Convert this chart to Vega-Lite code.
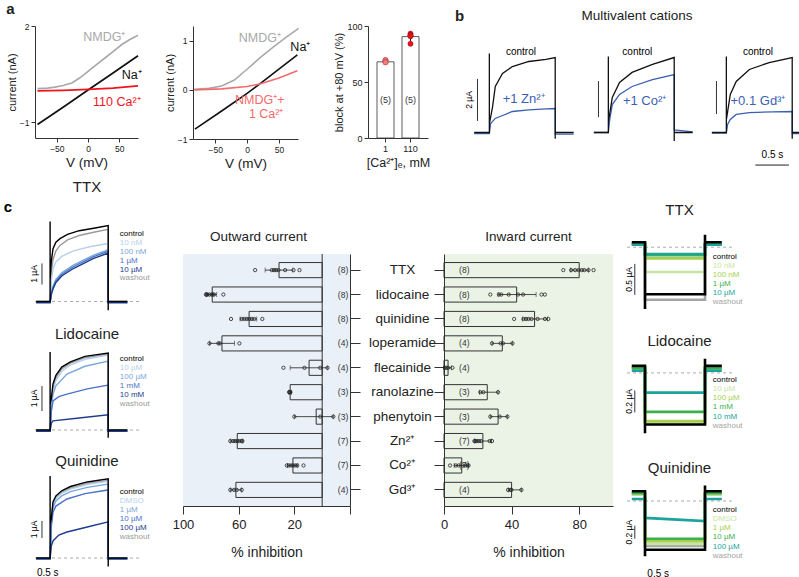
{
"$schema": "https://vega.github.io/schema/vega-lite/v6.json",
"padding": {"left": 3, "top": 2, "right": 0, "bottom": 0},
"background": "white",
"config": {
 "font": "Liberation Sans",
 "view": {"stroke": null},
 "axis": {"grid": false, "domainColor": "#333333", "tickColor": "#333333", "labelColor": "#222222", "titleColor": "#222222", "titleFontWeight": "normal", "labelFontSize": 8.5, "titleFontSize": 12, "tickSize": 4, "labelPadding": 2, "titlePadding": 2, "labelOverlap": false},
 "title": {"fontWeight": "normal", "color": "#222222"}
},
"datasets": {
 "a1": [
  {"s":"NMDG","v":[-81,-65,-53,-40,-26,-13,0,14,27,40,54,67,80],"i":[0.04,0.06,0.09,0.14,0.22,0.38,0.58,0.8,1.0,1.2,1.42,1.58,1.71]},
  {"s":"Na","v":[-81,-40,0,40,80],"i":[-1.08,-0.54,0,0.53,1.07]},
  {"s":"Ca","v":[-81,-40,0,40,80],"i":[-0.03,-0.01,0.02,0.06,0.13]}
 ],
 "a2": [
  {"s":"NMDG","v":[-83,-60,-40,-20,0,20,40,60,81],"i":[0.01,0.03,0.08,0.2,0.42,0.65,0.86,1.06,1.25]},
  {"s":"Na","v":[-82,-40,0,20,50,79],"i":[-0.8,-0.43,-0.07,0.12,0.42,0.71]},
  {"s":"Ca","v":[-83,-40,0,20,50,79],"i":[0,0.02,0.07,0.12,0.24,0.39]}
 ],
 "a3bars": [{"c":"1","m":68,"lo":67,"hi":69.5},{"c":"110","m":90.5,"lo":86.5,"hi":94}],
 "a3dots": [
  {"c":"1","v":68},{"c":"1","v":69.5},{"c":"1","v":69.5},{"c":"1","v":68},{"c":"1","v":67.5},
  {"c":"110","v":93.2},{"c":"110","v":91.7},{"c":"110","v":91.7},{"c":"110","v":84.2},{"c":"110","v":90.8}
 ],
 "b1": [
  {"s":"drug","t":[-0.23,0,0.02,0.09,0.2,0.35,0.6,0.86,1,1,1.28],"i":[-0.05,-0.05,0.43,0.67,0.81,1.0,1.08,1.12,1.14,-0.08,-0.08]},
  {"s":"control","t":[-0.23,0,0,0,0.05,0.09,0.2,0.35,0.6,0.86,1,1,1,1.28],"i":[0,0,3.76,0.4,1.24,2.19,2.81,3.14,3.38,3.48,3.57,-0.3,0,0]}
 ],
 "b2": [
  {"s":"drug","t":[-0.22,0,0.02,0.06,0.17,0.36,0.67,1,1,1.28],"i":[0,0,0.6,1.33,1.81,2.19,2.52,2.76,0.12,0.03]},
  {"s":"control","t":[-0.22,0,0,0,0.06,0.17,0.36,0.67,1,1,1,1.28],"i":[0,0,3.62,0.5,1.67,2.38,2.86,3.24,3.57,-0.4,0,0]}
 ],
 "b3": [
  {"s":"drug","t":[-0.22,0,0.02,0.06,0.15,0.35,0.7,1,1,1.28],"i":[-0.03,-0.03,0.4,0.62,0.86,0.95,0.98,1.0,-0.05,-0.05]},
  {"s":"control","t":[-0.22,0,0,0,0.06,0.15,0.35,0.65,1,1,1,1.28],"i":[0,0,3.62,0.6,1.81,2.43,3.0,3.33,3.57,-0.3,0,0]}
 ],
 "cL1": [
  {"s":"washout","t":[-0.24,0,0.02,0.05,0.1,0.17,0.3,0.5,0.75,1,1,1.33],"i":[0,0,1.3,1.9,2.3,2.55,2.8,3.0,3.15,3.28,0,0]},
  {"s":"10 nM","t":[-0.24,0,0.02,0.05,0.1,0.2,0.4,0.7,1,1,1.33],"i":[-0.05,-0.05,0.9,1.5,1.8,2.05,2.3,2.5,2.64,-0.05,-0.05]},
  {"s":"100 nM","t":[-0.24,0,0.02,0.05,0.1,0.2,0.4,0.74,1,1,1.33],"i":[-0.05,-0.05,0.4,0.7,1.0,1.3,1.65,2.1,2.35,-0.05,-0.05]},
  {"s":"1 µM","t":[-0.24,0,0.02,0.05,0.1,0.2,0.4,0.74,1,1,1.33],"i":[-0.05,-0.05,0.35,0.63,0.93,1.23,1.58,2.03,2.28,-0.05,-0.05]},
  {"s":"10 µM","t":[-0.24,0,0.02,0.05,0.1,0.2,0.4,0.74,1,1,1.33],"i":[-0.05,-0.05,0.3,0.57,0.86,1.16,1.5,1.95,2.2,-0.05,-0.05]},
  {"s":"control","t":[-0.24,0,0,0,0.02,0.05,0.1,0.17,0.3,0.5,0.75,1,1,1,1.33],"i":[0,0,3.64,1.0,1.8,2.4,2.7,2.86,3.05,3.22,3.33,3.45,-0.4,0,0]}
 ],
 "cL2": [
  {"s":"washout","t":[-0.24,0,0.02,0.05,0.1,0.2,0.35,0.6,1,1,1.33],"i":[0,0,1.0,1.6,2.0,2.35,2.57,2.78,2.92,0,0]},
  {"s":"10 µM","t":[-0.24,0,0.02,0.05,0.1,0.2,0.35,0.6,1,1,1.33],"i":[-0.04,-0.04,0.9,1.5,1.9,2.25,2.5,2.72,2.88,-0.04,-0.04]},
  {"s":"100 µM","t":[-0.24,0,0.02,0.05,0.1,0.29,0.6,1,1,1.33],"i":[-0.04,-0.04,0.8,1.38,1.7,2.15,2.45,2.65,-0.04,-0.04]},
  {"s":"1 mM","t":[-0.24,0,0.02,0.05,0.15,0.29,0.64,1,1,1.33],"i":[-0.04,-0.04,0.7,1.12,1.28,1.38,1.58,1.73,-0.04,-0.04]},
  {"s":"10 mM","t":[-0.24,0,0.02,0.05,0.5,1,1,1.33],"i":[-0.05,-0.05,0.25,0.35,0.46,0.58,-0.05,-0.05]},
  {"s":"control","t":[-0.24,0,0,0,0.02,0.05,0.1,0.2,0.35,0.6,1,1,1,1.33],"i":[0,0,3.0,1.0,1.2,1.77,2.1,2.42,2.62,2.83,2.96,-0.3,0,0]}
 ],
 "cL3": [
  {"s":"washout","t":[-0.24,0,0.02,0.05,0.1,0.2,0.35,0.64,1,1,1.33],"i":[0,0,2.2,3.2,3.55,3.85,4.1,4.38,4.55,0,0]},
  {"s":"DMSO","t":[-0.24,0,0.02,0.05,0.1,0.2,0.35,0.64,1,1,1.33],"i":[-0.05,-0.05,2.1,3.1,3.5,3.8,4.05,4.32,4.5,-0.05,-0.05]},
  {"s":"1 µM","t":[-0.24,0,0.02,0.05,0.1,0.2,0.35,0.64,1,1,1.33],"i":[-0.05,-0.05,2.0,2.95,3.35,3.65,3.9,4.15,4.35,-0.05,-0.05]},
  {"s":"10 µM","t":[-0.24,0,0.02,0.05,0.1,0.29,0.6,1,1,1.33],"i":[-0.05,-0.05,1.8,2.7,3.05,3.47,3.78,4.0,-0.05,-0.05]},
  {"s":"100 µM","t":[-0.24,0,0.02,0.05,0.15,0.29,0.64,1,1,1.33],"i":[-0.05,-0.05,0.7,1.0,1.35,1.53,1.82,2.12,-0.05,-0.05]},
  {"s":"control","t":[-0.24,0,0,0,0.02,0.05,0.1,0.2,0.35,0.64,1,1,1,1.33],"i":[0,0,4.82,2.0,2.3,3.3,3.65,3.95,4.2,4.47,4.65,-0.5,0,0]}
 ],
 "cR1": [
  {"s":"washout","t":[-0.22,0,0,1,1,1.28],"i":[0.05,0.05,-0.85,-0.85,0.05,0.05]},
  {"s":"10 nM","t":[-0.22,0,0,1,1,1.28],"i":[0.05,0.05,-0.4,-0.4,0.05,0.05]},
  {"s":"100 nM","t":[-0.22,0,0,1,1,1.28],"i":[0.05,0.05,-0.18,-0.18,0.05,0.05]},
  {"s":"1 µM","t":[-0.22,0,0,1,1,1.28],"i":[0.05,0.05,-0.13,-0.13,0.05,0.05]},
  {"s":"10 µM","t":[-0.22,0,0,1,1,1.28],"i":[0.04,0.04,-0.11,-0.11,0.04,0.04]},
  {"s":"control","t":[-0.22,0,0,0,1,1,1,1.28],"i":[0.08,0.08,-1.0,-0.76,-0.76,0.2,0.08,0.08]}
 ],
 "cR2": [
  {"s":"washout","t":[-0.22,0,0,1,1,1.28],"i":[0.05,0.05,-0.45,-0.45,0.05,0.05]},
  {"s":"10 µM","t":[-0.22,0,0,1,1,1.28],"i":[0.05,0.05,-0.46,-0.46,0.05,0.05]},
  {"s":"100 µM","t":[-0.22,0,0,1,1,1.28],"i":[0.05,0.05,-0.44,-0.44,0.05,0.05]},
  {"s":"1 mM","t":[-0.22,0,0,1,1,1.28],"i":[0.04,0.04,-0.355,-0.355,0.04,0.04]},
  {"s":"10 mM","t":[-0.22,0,0,1,1,1.28],"i":[0.02,0.02,-0.18,-0.18,0.02,0.02]},
  {"s":"control","t":[-0.22,0,0,0,1,1,1,1.28],"i":[0.064,0.064,-0.55,-0.47,-0.47,0.13,0.064,0.064]}
 ],
 "cR3": [
  {"s":"washout","t":[-0.22,0,0,1,1,1.28],"i":[0.1,0.1,-0.69,-0.69,0.1,0.1]},
  {"s":"DMSO","t":[-0.22,0,0,1,1,1.28],"i":[0.1,0.1,-0.66,-0.66,0.1,0.1]},
  {"s":"1 µM","t":[-0.22,0,0,1,1,1.28],"i":[0.12,0.12,-0.62,-0.62,0.12,0.12]},
  {"s":"10 µM","t":[-0.22,0,0,1,1,1.28],"i":[0.12,0.12,-0.58,-0.58,0.12,0.12]},
  {"s":"100 µM","t":[-0.22,0,0,1,1,1.28],"i":[0.03,0.03,-0.26,-0.31,0.03,0.03]},
  {"s":"control","t":[-0.22,0,0,0,1,1,1,1.28],"i":[0.15,0.15,-0.85,-0.75,-0.75,0.24,0.15,0.15]}
 ],
 "drugs": [
  {"d":"TTX","n":8,"out":31,"oLo":21,"oHi":41,"in":80,"iLo":75,"iHi":85.5},
  {"d":"lidocaine","n":8,"out":79,"oLo":75.8,"oHi":83.5,"in":43,"iLo":32,"iHi":54.5},
  {"d":"quinidine","n":8,"out":52.5,"oLo":47,"oHi":59,"in":53.6,"iLo":46.5,"iHi":61.3},
  {"d":"loperamide","n":4,"out":72,"oLo":63,"oHi":81,"in":34.5,"iLo":28.4,"iHi":40.5},
  {"d":"flecainide","n":4,"out":9.4,"oLo":-4,"oHi":23,"in":2.4,"iLo":0,"iHi":4.5},
  {"d":"ranolazine","n":3,"out":23,"oLo":22,"oHi":24,"in":25.6,"iLo":21,"iHi":32},
  {"d":"phenytoin","n":3,"out":4.3,"oLo":-8,"oHi":20,"in":32,"iLo":27.4,"iHi":37.5},
  {"d":"Zn²⁺","n":7,"out":61,"oLo":57,"oHi":66,"in":23,"iLo":18,"iHi":28},
  {"d":"Co²⁺","n":7,"out":21,"oLo":17.5,"oHi":25,"in":10.5,"iLo":6,"iHi":14.5},
  {"d":"Gd³⁺","n":4,"out":62,"oLo":58,"oHi":66,"in":40,"iLo":38,"iHi":45.8}
 ],
 "outDots": [
  {"d":"TTX","v":[48.2,36.2,34.5,33.1,31.4,26.6,20.6,16.3]},
  {"d":"lidocaine","v":[83.5,83,82.5,81,79.4,78.5,77.7,71]},
  {"d":"quinidine","v":[65.5,57.8,55.9,54.2,52.3,50.6,48.7,43]},
  {"d":"loperamide","v":[81,74.6,73.5,59.5]},
  {"d":"flecainide","v":[27.8,12.7,1.4,-3.8]},
  {"d":"ranolazine","v":[22.8,23.3,23.8]},
  {"d":"phenytoin","v":[20,1.4,-8]},
  {"d":"Zn²⁺","v":[66,64,62.5,61,59.5,58,57.3]},
  {"d":"Co²⁺","v":[25.4,24,22.3,21,19.4,18,13.4]},
  {"d":"Gd³⁺","v":[66,63.3,61.4,57.8]}
 ],
 "inDots": [
  {"d":"TTX","v":[70.6,75.2,77.6,79.6,81.5,83.1,85.5,88.5]},
  {"d":"lidocaine","v":[27.4,32.5,33.9,38.3,43.8,46.8,57.7,59.7]},
  {"d":"quinidine","v":[41.5,47,48.5,50,51.8,55.4,59.7,61.7]},
  {"d":"loperamide","v":[28.4,33.5,34.9,40.5]},
  {"d":"flecainide","v":[0.5,1.5,2.5,5]},
  {"d":"ranolazine","v":[21.5,23.3,32]},
  {"d":"phenytoin","v":[27.4,33,37.5]},
  {"d":"Zn²⁺","v":[18,18.5,19.4,20.6,22,27,28.4]},
  {"d":"Co²⁺","v":[3.6,7,8.7,11,12.7,13.8,14.5]},
  {"d":"Gd³⁺","v":[37.9,39.3,39.9,45.8]}
 ]
},
"spacing": 10,
"resolve": {"scale": {"color": "independent", "fill": "independent", "stroke": "independent"}},
"vconcat": [
 {"spacing": 25, "resolve": {"scale": {"color": "independent", "fill": "independent", "stroke": "independent"}}, "hconcat": [
  {"spacing": 22, "resolve": {"scale": {"color": "independent", "fill": "independent", "stroke": "independent"}}, "hconcat": [
   {"width": 103, "height": 112,
    "title": {"text": "a", "fontSize": 15, "fontWeight": "bold", "anchor": "start", "offset": 5},
    "data": {"values": [{}]},
    "layer": [
     {"data": {"name": "a1"}, "transform": [{"flatten": ["v", "i"]}], "mark": {"type": "line", "strokeWidth": 1.7},
      "encoding": {
       "x": {"field": "v", "type": "quantitative", "scale": {"domain": [-85, 80], "nice": false, "zero": false}, "axis": {"values": [-50, 0, 50], "title": "V (mV)", "titleFontSize": 13.5, "titlePadding": 3, "labelOverlap": false}},
       "y": {"field": "i", "type": "quantitative", "scale": {"domain": [-1.5, 2], "nice": false, "zero": false}, "axis": {"values": [-1, 0, 1, 2], "title": "current (nA)", "titleFontSize": 11, "labelOverlap": {"expr": "false"}, "labelFlush": false}},
       "color": {"field": "s", "type": "nominal", "scale": {"domain": ["NMDG", "Na", "Ca"], "range": ["#a9a9a9", "#111111", "#f0141e"]}, "legend": null}}},
     {"mark": {"type": "text", "text": "NMDG⁺", "fontSize": 12.5, "color": "#a9a9a9"}, "encoding": {"x": {"datum": 26}, "y": {"datum": 1.65}}},
     {"mark": {"type": "text", "text": "Na⁺", "fontSize": 12.5, "color": "#111111"}, "encoding": {"x": {"datum": 70}, "y": {"datum": 0.47}}},
     {"mark": {"type": "text", "text": "110 Ca²⁺", "fontSize": 12.5, "color": "#f0141e"}, "encoding": {"x": {"datum": 46}, "y": {"datum": -0.37}}}
    ]},
   {"width": 105, "height": 113,
    "data": {"values": [{}]},
    "layer": [
     {"data": {"name": "a2"}, "transform": [{"flatten": ["v", "i"]}], "mark": {"type": "line", "strokeWidth": 1.6},
      "encoding": {
       "x": {"field": "v", "type": "quantitative", "scale": {"domain": [-85, 80], "nice": false, "zero": false}, "axis": {"values": [-50, 0, 50], "title": "V (mV)", "titleFontSize": 13.5, "titlePadding": 3, "labelOverlap": false}},
       "y": {"field": "i", "type": "quantitative", "scale": {"domain": [-1, 1.3], "nice": false, "zero": false}, "axis": {"values": [-1, 0, 1], "title": "current (nA)", "titleFontSize": 11, "labelOverlap": false, "labelFlush": false}},
       "color": {"field": "s", "type": "nominal", "scale": {"domain": ["NMDG", "Na", "Ca"], "range": ["#a9a9a9", "#111111", "#f36b6b"]}, "legend": null}}},
     {"mark": {"type": "text", "text": "NMDG⁺", "fontSize": 12.5, "color": "#a9a9a9"}, "encoding": {"x": {"datum": 20}, "y": {"datum": 1.06}}},
     {"mark": {"type": "text", "text": "Na⁺", "fontSize": 12.5, "color": "#111111", "align": "left"}, "encoding": {"x": {"datum": 68}, "y": {"datum": 0.88}}},
     {"mark": {"type": "text", "text": "NMDG⁺+", "fontSize": 12.5, "color": "#f36b6b"}, "encoding": {"x": {"datum": 20}, "y": {"datum": -0.2}}},
     {"mark": {"type": "text", "text": "1 Ca²⁺", "fontSize": 12.5, "color": "#f36b6b"}, "encoding": {"x": {"datum": 30}, "y": {"datum": -0.49}}}
    ]},
   {"width": 60, "height": 112,
    "data": {"name": "a3bars"},
    "layer": [
     {"mark": {"type": "bar", "fill": "white", "stroke": "#333333", "strokeWidth": 0.8},
      "encoding": {
       "x": {"field": "c", "type": "nominal", "sort": null, "scale": {"paddingInner": 0.32, "paddingOuter": 0.36}, "axis": {"title": "[Ca²⁺]ₑ, mM", "labelAngle": 0, "labelFontSize": 9, "titleFontSize": 12.5, "titlePadding": 3}},
       "y": {"field": "m", "type": "quantitative", "scale": {"domain": [0, 100], "nice": false}, "axis": {"values": [0, 25, 50, 75, 100], "labelExpr": "datum.value % 50 == 0 ? datum.label : ''", "title": "block at +80 mV (%)", "titleFontSize": 11, "labelFontSize": 9, "labelOverlap": false, "labelFlush": false}}}},
     {"mark": {"type": "text", "fontSize": 9, "color": "#333333", "text": "(5)"}, "encoding": {"x": {"field": "c", "type": "nominal", "sort": null}, "y": {"datum": 34}}},
     {"mark": {"type": "rule", "color": "#111111"}, "encoding": {"x": {"field": "c", "type": "nominal", "sort": null}, "y": {"field": "lo", "type": "quantitative"}, "y2": {"field": "hi"}}},
     {"data": {"name": "a3dots"}, "mark": {"type": "point", "filled": true, "size": 26, "strokeWidth": 0.6, "opacity": 1},
      "encoding": {
       "x": {"field": "c", "type": "nominal", "sort": null},
       "y": {"field": "v", "type": "quantitative"},
       "fill": {"field": "c", "type": "nominal", "scale": {"domain": ["1", "110"], "range": ["#f27f7f", "#e8141c"]}, "legend": null},
       "stroke": {"field": "c", "type": "nominal", "scale": {"domain": ["1", "110"], "range": ["#c0393b", "#a00d12"]}, "legend": null}}}
    ]}
  ]},
  {"spacing": 4, "resolve": {"scale": {"color": "independent"}}, "hconcat": [
   {"width": 110, "height": 117,
    "title": {"text": "b", "fontSize": 15, "fontWeight": "bold", "anchor": "start", "offset": 2, "dx": -8},
    "data": {"values": [{}]},
    "layer": [
     {"data": {"name": "b1"}, "transform": [{"flatten": ["t", "i"]}], "mark": {"type": "line", "strokeWidth": 1.3},
      "encoding": {
       "x": {"field": "t", "type": "quantitative", "scale": {"domain": [-0.4, 1.27], "nice": false, "zero": false}, "axis": null},
       "y": {"field": "i", "type": "quantitative", "scale": {"domain": [-0.5, 5.07], "nice": false, "zero": false}, "axis": null},
       "color": {"field": "s", "type": "nominal", "scale": {"domain": ["drug", "control"], "range": ["#3b5fb5", "#111111"]}, "legend": null},
       "order": {"value": null}}},
     {"mark": {"type": "rule", "color": "#333333"}, "encoding": {"x": {"datum": -0.18, "axis": null}, "y": {"datum": 0.55, "axis": null}, "y2": {"datum": 2.55}}},
     {"mark": {"type": "text", "text": "2 µA", "angle": 270, "fontSize": 8.5}, "encoding": {"x": {"datum": -0.31, "axis": null}, "y": {"datum": 1.55, "axis": null}}},
     {"mark": {"type": "text", "text": "control", "fontSize": 10}, "encoding": {"x": {"datum": 0.48, "axis": null}, "y": {"datum": 3.83, "axis": null}}},
     {"mark": {"type": "text", "text": "+1 Zn²⁺", "fontSize": 13, "color": "#3b5fb5"}, "encoding": {"x": {"datum": 0.52, "axis": null}, "y": {"datum": 1.6, "axis": null}}}
    ]},
   {"width": 110, "height": 117,
    "title": {"text": "Multivalent cations", "fontSize": 13.5, "offset": 4},
    "data": {"values": [{}]},
    "layer": [
     {"data": {"name": "b2"}, "transform": [{"flatten": ["t", "i"]}], "mark": {"type": "line", "strokeWidth": 1.3},
      "encoding": {
       "x": {"field": "t", "type": "quantitative", "scale": {"domain": [-0.4, 1.27], "nice": false, "zero": false}, "axis": null},
       "y": {"field": "i", "type": "quantitative", "scale": {"domain": [-0.5, 5.07], "nice": false, "zero": false}, "axis": null},
       "color": {"field": "s", "type": "nominal", "scale": {"domain": ["drug", "control"], "range": ["#3b5fb5", "#111111"]}, "legend": null},
       "order": {"value": null}}},
     {"mark": {"type": "rule", "color": "#333333"}, "encoding": {"x": {"datum": -0.15, "axis": null}, "y": {"datum": 0.73, "axis": null}, "y2": {"datum": 2.45}}},
     {"mark": {"type": "text", "text": "control", "fontSize": 10}, "encoding": {"x": {"datum": 0.44, "axis": null}, "y": {"datum": 3.83, "axis": null}}},
     {"mark": {"type": "text", "text": "+1 Co²⁺", "fontSize": 13, "color": "#3b5fb5"}, "encoding": {"x": {"datum": 0.55, "axis": null}, "y": {"datum": 1.5, "axis": null}}}
    ]},
   {"width": 110, "height": 117,
    "data": {"values": [{}]},
    "layer": [
     {"data": {"name": "b3"}, "transform": [{"flatten": ["t", "i"]}], "mark": {"type": "line", "strokeWidth": 1.3},
      "encoding": {
       "x": {"field": "t", "type": "quantitative", "scale": {"domain": [-0.4, 1.27], "nice": false, "zero": false}, "axis": null},
       "y": {"field": "i", "type": "quantitative", "scale": {"domain": [-0.5, 5.07], "nice": false, "zero": false}, "axis": null},
       "color": {"field": "s", "type": "nominal", "scale": {"domain": ["drug", "control"], "range": ["#3b5fb5", "#111111"]}, "legend": null},
       "order": {"value": null}}},
     {"mark": {"type": "rule", "color": "#333333"}, "encoding": {"x": {"datum": -0.15, "axis": null}, "y": {"datum": 0.88, "axis": null}, "y2": {"datum": 2.45}}},
     {"mark": {"type": "text", "text": "control", "fontSize": 10}, "encoding": {"x": {"datum": 0.48, "axis": null}, "y": {"datum": 3.83, "axis": null}}},
     {"mark": {"type": "text", "text": "+0.1 Gd³⁺", "fontSize": 13, "color": "#3b5fb5"}, "encoding": {"x": {"datum": 0.48, "axis": null}, "y": {"datum": 1.5, "axis": null}}},
     {"mark": {"type": "rule", "color": "#222222"}, "encoding": {"x": {"datum": 0.44, "axis": null}, "x2": {"datum": 0.95}, "y": {"datum": -1.55, "axis": null}}},
     {"mark": {"type": "text", "text": "0.5 s", "fontSize": 10, "baseline": "bottom"}, "encoding": {"x": {"datum": 0.7, "axis": null}, "y": {"datum": -1.3, "axis": null}}}
    ]}
  ]}
 ]},
 {"spacing": 22, "resolve": {"scale": {"color": "independent"}}, "hconcat": [
  {"spacing": 13, "resolve": {"scale": {"color": "independent"}}, "vconcat": [
   {"width": 104, "height": 60,
    "title": {"text": "TTX", "fontSize": 15, "offset": 4.5},
    "data": {"values": [{}]},
    "layer": [
     {"mark": {"type": "rule", "color": "#aaaaaa", "strokeDash": [3, 3]}, "encoding": {"y": {"datum": 0, "axis": null}}},
     {"data": {"name": "cL1"}, "transform": [{"flatten": ["t", "i"]}], "mark": {"type": "line", "strokeWidth": 1.4},
      "encoding": {
       "x": {"field": "t", "type": "quantitative", "scale": {"domain": [-0.26, 1.53], "nice": false, "zero": false}, "axis": null},
       "y": {"field": "i", "type": "quantitative", "scale": {"domain": [-0.57, 2.16], "nice": false, "zero": false}, "axis": null},
       "color": {"field": "s", "type": "nominal", "scale": {"domain": ["10 nM", "100 nM", "1 µM", "10 µM", "washout", "control"], "range": ["#b8d0ec", "#7ba6dd", "#4a73c8", "#1f3b8e", "#9a9a9a", "#000000"]}, "legend": null},
       "order": {"value": null}}},
     {"mark": {"type": "rule", "color": "#333333"}, "encoding": {"x": {"datum": -0.14, "axis": null}, "y": {"datum": 0.77, "axis": null}, "y2": {"datum": 1.73}}},
     {"mark": {"type": "text", "text": "1 µA", "angle": 270, "fontSize": 8.5}, "encoding": {"x": {"datum": -0.27, "axis": null}, "y": {"datum": 1.25, "axis": null}}},
     {"mark": {"type": "text", "text": "c", "fontSize": 15, "fontWeight": "bold", "align": "left"}, "encoding": {"x": {"datum": -0.8, "axis": null}, "y": {"datum": 4.32, "axis": null}}},
     {"mark": {"type": "text", "text": "control", "fontSize": 8, "align": "left", "color": "#000000"}, "encoding": {"x": {"datum": 1.2, "axis": null}, "y": {"datum": 3.09, "axis": null}}},
     {"mark": {"type": "text", "text": "10 nM", "fontSize": 8, "align": "left", "color": "#b8d0ec"}, "encoding": {"x": {"datum": 1.2, "axis": null}, "y": {"datum": 2.68, "axis": null}}},
     {"mark": {"type": "text", "text": "100 nM", "fontSize": 8, "align": "left", "color": "#7ba6dd"}, "encoding": {"x": {"datum": 1.2, "axis": null}, "y": {"datum": 2.27, "axis": null}}},
     {"mark": {"type": "text", "text": "1 µM", "fontSize": 8, "align": "left", "color": "#4a73c8"}, "encoding": {"x": {"datum": 1.2, "axis": null}, "y": {"datum": 1.86, "axis": null}}},
     {"mark": {"type": "text", "text": "10 µM", "fontSize": 8, "align": "left", "color": "#1f3b8e"}, "encoding": {"x": {"datum": 1.2, "axis": null}, "y": {"datum": 1.45, "axis": null}}},
     {"mark": {"type": "text", "text": "washout", "fontSize": 8, "align": "left", "color": "#9a9a9a"}, "encoding": {"x": {"datum": 1.2, "axis": null}, "y": {"datum": 1.05, "axis": null}}}
    ]},
   {"width": 104, "height": 91,
    "title": {"text": "Lidocaine", "fontSize": 15, "offset": 4},
    "data": {"values": [{}]},
    "layer": [
     {"mark": {"type": "rule", "color": "#aaaaaa", "strokeDash": [3, 3]}, "encoding": {"y": {"datum": 0, "axis": null}}},
     {"data": {"name": "cL2"}, "transform": [{"flatten": ["t", "i"]}], "mark": {"type": "line", "strokeWidth": 1.4},
      "encoding": {
       "x": {"field": "t", "type": "quantitative", "scale": {"domain": [-0.26, 1.53], "nice": false, "zero": false}, "axis": null},
       "y": {"field": "i", "type": "quantitative", "scale": {"domain": [-0.27, 3.23], "nice": false, "zero": false}, "axis": null},
       "color": {"field": "s", "type": "nominal", "scale": {"domain": ["10 µM", "100 µM", "1 mM", "10 mM", "washout", "control"], "range": ["#b8d0ec", "#7ba6dd", "#4a73c8", "#1f3b8e", "#9a9a9a", "#000000"]}, "legend": null},
       "order": {"value": null}}},
     {"mark": {"type": "rule", "color": "#333333"}, "encoding": {"x": {"datum": -0.14, "axis": null}, "y": {"datum": 0.73, "axis": null}, "y2": {"datum": 1.69}}},
     {"mark": {"type": "text", "text": "1 µA", "angle": 270, "fontSize": 8.5}, "encoding": {"x": {"datum": -0.27, "axis": null}, "y": {"datum": 1.21, "axis": null}}},
     {"mark": {"type": "text", "text": "control", "fontSize": 8, "align": "left", "color": "#000000"}, "encoding": {"x": {"datum": 1.2, "axis": null}, "y": {"datum": 2.73, "axis": null}}},
     {"mark": {"type": "text", "text": "10 µM", "fontSize": 8, "align": "left", "color": "#b8d0ec"}, "encoding": {"x": {"datum": 1.2, "axis": null}, "y": {"datum": 2.38, "axis": null}}},
     {"mark": {"type": "text", "text": "100 µM", "fontSize": 8, "align": "left", "color": "#7ba6dd"}, "encoding": {"x": {"datum": 1.2, "axis": null}, "y": {"datum": 2.04, "axis": null}}},
     {"mark": {"type": "text", "text": "1 mM", "fontSize": 8, "align": "left", "color": "#4a73c8"}, "encoding": {"x": {"datum": 1.2, "axis": null}, "y": {"datum": 1.69, "axis": null}}},
     {"mark": {"type": "text", "text": "10 mM", "fontSize": 8, "align": "left", "color": "#1f3b8e"}, "encoding": {"x": {"datum": 1.2, "axis": null}, "y": {"datum": 1.35, "axis": null}}},
     {"mark": {"type": "text", "text": "washout", "fontSize": 8, "align": "left", "color": "#9a9a9a"}, "encoding": {"x": {"datum": 1.2, "axis": null}, "y": {"datum": 1.0, "axis": null}}}
    ]},
   {"width": 104, "height": 88,
    "title": {"text": "Quinidine", "fontSize": 15, "offset": 4},
    "data": {"values": [{}]},
    "layer": [
     {"mark": {"type": "rule", "color": "#aaaaaa", "strokeDash": [3, 3]}, "encoding": {"y": {"datum": 0, "axis": null}}},
     {"data": {"name": "cL3"}, "transform": [{"flatten": ["t", "i"]}], "mark": {"type": "line", "strokeWidth": 1.4},
      "encoding": {
       "x": {"field": "t", "type": "quantitative", "scale": {"domain": [-0.26, 1.53], "nice": false, "zero": false}, "axis": null},
       "y": {"field": "i", "type": "quantitative", "scale": {"domain": [-0.41, 4.76], "nice": false, "zero": false}, "axis": null},
       "color": {"field": "s", "type": "nominal", "scale": {"domain": ["DMSO", "1 µM", "10 µM", "100 µM", "washout", "control"], "range": ["#b8d0ec", "#7ba6dd", "#4a73c8", "#1f3b8e", "#9a9a9a", "#000000"]}, "legend": null},
       "order": {"value": null}}},
     {"mark": {"type": "rule", "color": "#333333"}, "encoding": {"x": {"datum": -0.14, "axis": null}, "y": {"datum": 1.18, "axis": null}, "y2": {"datum": 2.18}}},
     {"mark": {"type": "text", "text": "1 µA", "angle": 270, "fontSize": 8.5}, "encoding": {"x": {"datum": -0.27, "axis": null}, "y": {"datum": 1.68, "axis": null}}},
     {"mark": {"type": "rule", "color": "#222222"}, "encoding": {"x": {"datum": -0.29, "axis": null}, "x2": {"datum": 0.21}, "y": {"datum": -1.41, "axis": null}}},
     {"mark": {"type": "text", "text": "0.5 s", "fontSize": 10, "baseline": "bottom"}, "encoding": {"x": {"datum": -0.04, "axis": null}, "y": {"datum": -1.15, "axis": null}}},
     {"mark": {"type": "text", "text": "control", "fontSize": 8, "align": "left", "color": "#000000"}, "encoding": {"x": {"datum": 1.2, "axis": null}, "y": {"datum": 3.88, "axis": null}}},
     {"mark": {"type": "text", "text": "DMSO", "fontSize": 8, "align": "left", "color": "#b8d0ec"}, "encoding": {"x": {"datum": 1.2, "axis": null}, "y": {"datum": 3.35, "axis": null}}},
     {"mark": {"type": "text", "text": "1 µM", "fontSize": 8, "align": "left", "color": "#7ba6dd"}, "encoding": {"x": {"datum": 1.2, "axis": null}, "y": {"datum": 2.82, "axis": null}}},
     {"mark": {"type": "text", "text": "10 µM", "fontSize": 8, "align": "left", "color": "#4a73c8"}, "encoding": {"x": {"datum": 1.2, "axis": null}, "y": {"datum": 2.29, "axis": null}}},
     {"mark": {"type": "text", "text": "100 µM", "fontSize": 8, "align": "left", "color": "#1f3b8e"}, "encoding": {"x": {"datum": 1.2, "axis": null}, "y": {"datum": 1.76, "axis": null}}},
     {"mark": {"type": "text", "text": "washout", "fontSize": 8, "align": "left", "color": "#9a9a9a"}, "encoding": {"x": {"datum": 1.2, "axis": null}, "y": {"datum": 1.24, "axis": null}}}
    ]}
  ]},
  {"spacing": 11, "resolve": {"scale": {"color": "independent"}}, "hconcat": [
   {"spacing": 7, "hconcat": [
    {"width": 167, "height": 252,
     "view": {"fill": "#e9f0f8", "stroke": null},
     "title": {"text": "Outward current", "fontSize": 13.5, "offset": 10.5, "frame": "group", "dx": -8},
     "data": {"name": "drugs"},
     "layer": [
      {"mark": {"type": "bar", "fill": "transparent", "stroke": "#333333", "strokeWidth": 1},
       "encoding": {
        "y": {"field": "d", "type": "nominal", "sort": null, "scale": {"domain": ["TTX", "lidocaine", "quinidine", "loperamide", "flecainide", "ranolazine", "phenytoin", "Zn²⁺", "Co²⁺", "Gd³⁺"], "paddingInner": 0.38, "paddingOuter": 0.35}, "axis": {"orient": "right", "labels": false, "tickSize": 10, "title": null}},
        "x": {"field": "out", "type": "quantitative", "scale": {"domain": [-20, 100], "reverse": true, "nice": false, "zero": false}, "axis": {"values": [100, 80, 60, 40, 20, 0, -20], "labelExpr": "datum.value < 0 ? '' : datum.label", "title": "% inhibition", "labelFontSize": 13, "titleFontSize": 14, "tickSize": 8, "labelPadding": 4, "titlePadding": 14, "labelFlush": false, "labelOverlap": {"expr": "false"}}},
        "x2": {"datum": 0}}},
      {"data": {"values": [{}]}, "mark": {"type": "rule", "color": "#333333"}, "encoding": {"x": {"datum": 0}}},
      {"mark": {"type": "rule", "color": "#222222", "strokeWidth": 0.8}, "encoding": {"y": {"field": "d", "type": "nominal", "sort": null}, "x": {"field": "oLo", "type": "quantitative"}, "x2": {"field": "oHi"}}},
      {"mark": {"type": "tick", "color": "#222222", "size": 5, "thickness": 0.8}, "encoding": {"y": {"field": "d", "type": "nominal", "sort": null}, "x": {"field": "oLo", "type": "quantitative"}}},
      {"mark": {"type": "tick", "color": "#222222", "size": 5, "thickness": 0.8}, "encoding": {"y": {"field": "d", "type": "nominal", "sort": null}, "x": {"field": "oHi", "type": "quantitative"}}},
      {"data": {"name": "outDots"}, "transform": [{"flatten": ["v"]}], "mark": {"type": "point", "shape": "circle", "size": 11, "filled": false, "stroke": "#222222", "strokeWidth": 0.8, "opacity": 1},
       "encoding": {"y": {"field": "d", "type": "nominal", "sort": null}, "x": {"field": "v", "type": "quantitative"}}},
      {"transform": [{"calculate": "'(' + datum.n + ')'", "as": "nl"}], "mark": {"type": "text", "fontSize": 8.5, "color": "#333333"},
       "encoding": {"y": {"field": "d", "type": "nominal", "sort": null}, "x": {"datum": -15}, "text": {"field": "nl"}}}
     ]},
    {"width": 169, "height": 252,
     "view": {"fill": "#ebf3e6", "stroke": null},
     "title": {"text": "Inward current", "fontSize": 13.5, "offset": 10.5, "frame": "group"},
     "data": {"name": "drugs"},
     "layer": [
      {"mark": {"type": "bar", "fill": "transparent", "stroke": "#333333", "strokeWidth": 1},
       "encoding": {
        "y": {"field": "d", "type": "nominal", "sort": null, "scale": {"domain": ["TTX", "lidocaine", "quinidine", "loperamide", "flecainide", "ranolazine", "phenytoin", "Zn²⁺", "Co²⁺", "Gd³⁺"], "paddingInner": 0.38, "paddingOuter": 0.35}, "axis": {"orient": "left", "tickSize": 10, "labelPadding": 32, "labelAlign": "center", "labelFontSize": 13.5, "title": null}},
        "x": {"field": "in", "type": "quantitative", "scale": {"domain": [0, 100], "nice": false, "zero": false}, "axis": {"values": [0, 20, 40, 60, 80, 100], "title": "% inhibition", "labelFontSize": 13, "titleFontSize": 14, "tickSize": 8, "labelPadding": 4, "titlePadding": 14, "labelFlush": false, "labelOverlap": {"expr": "false"}}},
        "x2": {"datum": 0}}},
      {"mark": {"type": "rule", "color": "#222222", "strokeWidth": 0.8}, "encoding": {"y": {"field": "d", "type": "nominal", "sort": null}, "x": {"field": "iLo", "type": "quantitative"}, "x2": {"field": "iHi"}}},
      {"mark": {"type": "tick", "color": "#222222", "size": 5, "thickness": 0.8}, "encoding": {"y": {"field": "d", "type": "nominal", "sort": null}, "x": {"field": "iLo", "type": "quantitative"}}},
      {"mark": {"type": "tick", "color": "#222222", "size": 5, "thickness": 0.8}, "encoding": {"y": {"field": "d", "type": "nominal", "sort": null}, "x": {"field": "iHi", "type": "quantitative"}}},
      {"data": {"name": "inDots"}, "transform": [{"flatten": ["v"]}], "mark": {"type": "point", "shape": "circle", "size": 11, "filled": false, "stroke": "#222222", "strokeWidth": 0.8, "opacity": 1},
       "encoding": {"y": {"field": "d", "type": "nominal", "sort": null}, "x": {"field": "v", "type": "quantitative"}}},
      {"transform": [{"calculate": "'(' + datum.n + ')'", "as": "nl"}], "mark": {"type": "text", "fontSize": 8.5, "color": "#333333"},
       "encoding": {"y": {"field": "d", "type": "nominal", "sort": null}, "x": {"datum": 12}, "text": {"field": "nl"}}}
     ]}
   ]},
   {"spacing": 19, "resolve": {"scale": {"color": "independent"}}, "vconcat": [
    {"width": 105, "height": 52,
     "title": {"text": "TTX", "fontSize": 15, "offset": 11.5},
     "data": {"values": [{}]},
     "layer": [
      {"mark": {"type": "rule", "color": "#aaaaaa", "strokeDash": [3, 3]}, "encoding": {"y": {"datum": 0, "axis": null}}},
      {"data": {"name": "cR1"}, "transform": [{"flatten": ["t", "i"]}], "mark": {"type": "line", "strokeWidth": 2.6},
       "encoding": {
        "x": {"field": "t", "type": "quantitative", "scale": {"domain": [-0.3, 1.45], "nice": false, "zero": false}, "axis": null},
        "y": {"field": "i", "type": "quantitative", "scale": {"domain": [-0.95, -0.11], "nice": false, "zero": false}, "axis": null},
        "color": {"field": "s", "type": "nominal", "scale": {"domain": ["10 nM", "100 nM", "1 µM", "10 µM", "washout", "control"], "range": ["#c8e4a4", "#a5cf4e", "#3bb04a", "#1ea39c", "#a5a5a5", "#000000"]}, "legend": null},
        "order": {"value": null}}},
      {"mark": {"type": "rule", "color": "#333333"}, "encoding": {"x": {"datum": -0.17, "axis": null}, "y": {"datum": -0.27, "axis": null}, "y2": {"datum": -0.77}}},
      {"mark": {"type": "text", "text": "0.5 µA", "angle": 270, "fontSize": 8.5}, "encoding": {"x": {"datum": -0.27, "axis": null}, "y": {"datum": -0.52, "axis": null}}},
      {"mark": {"type": "text", "text": "control", "fontSize": 8, "align": "left", "color": "#000000"}, "encoding": {"x": {"datum": 1.13, "axis": null}, "y": {"datum": -0.16, "axis": null}}},
      {"mark": {"type": "text", "text": "10 nM", "fontSize": 8, "align": "left", "color": "#c8e4a4"}, "encoding": {"x": {"datum": 1.13, "axis": null}, "y": {"datum": -0.31, "axis": null}}},
      {"mark": {"type": "text", "text": "100 nM", "fontSize": 8, "align": "left", "color": "#a5cf4e"}, "encoding": {"x": {"datum": 1.13, "axis": null}, "y": {"datum": -0.45, "axis": null}}},
      {"mark": {"type": "text", "text": "1 µM", "fontSize": 8, "align": "left", "color": "#3bb04a"}, "encoding": {"x": {"datum": 1.13, "axis": null}, "y": {"datum": -0.6, "axis": null}}},
      {"mark": {"type": "text", "text": "10 µM", "fontSize": 8, "align": "left", "color": "#1ea39c"}, "encoding": {"x": {"datum": 1.13, "axis": null}, "y": {"datum": -0.74, "axis": null}}},
      {"mark": {"type": "text", "text": "washout", "fontSize": 8, "align": "left", "color": "#a5a5a5"}, "encoding": {"x": {"datum": 1.13, "axis": null}, "y": {"datum": -0.89, "axis": null}}}
     ]},
    {"width": 105, "height": 85,
     "title": {"text": "Lidocaine", "fontSize": 15, "offset": 4},
     "data": {"values": [{}]},
     "layer": [
      {"mark": {"type": "rule", "color": "#aaaaaa", "strokeDash": [3, 3]}, "encoding": {"y": {"datum": 0, "axis": null}}},
      {"data": {"name": "cR2"}, "transform": [{"flatten": ["t", "i"]}], "mark": {"type": "line", "strokeWidth": 2.6},
       "encoding": {
        "x": {"field": "t", "type": "quantitative", "scale": {"domain": [-0.3, 1.45], "nice": false, "zero": false}, "axis": null},
        "y": {"field": "i", "type": "quantitative", "scale": {"domain": [-0.63, 0.145], "nice": false, "zero": false}, "axis": null},
        "color": {"field": "s", "type": "nominal", "scale": {"domain": ["10 µM", "100 µM", "1 mM", "10 mM", "washout", "control"], "range": ["#c8e4a4", "#a5cf4e", "#3bb04a", "#1ea39c", "#a5a5a5", "#000000"]}, "legend": null},
        "order": {"value": null}}},
      {"mark": {"type": "rule", "color": "#333333"}, "encoding": {"x": {"datum": -0.17, "axis": null}, "y": {"datum": -0.16, "axis": null}, "y2": {"datum": -0.36}}},
      {"mark": {"type": "text", "text": "0.2 µA", "angle": 270, "fontSize": 8.5}, "encoding": {"x": {"datum": -0.27, "axis": null}, "y": {"datum": -0.26, "axis": null}}},
      {"mark": {"type": "text", "text": "control", "fontSize": 8, "align": "left", "color": "#000000"}, "encoding": {"x": {"datum": 1.13, "axis": null}, "y": {"datum": -0.064, "axis": null}}},
      {"mark": {"type": "text", "text": "10 µM", "fontSize": 8, "align": "left", "color": "#c8e4a4"}, "encoding": {"x": {"datum": 1.13, "axis": null}, "y": {"datum": -0.145, "axis": null}}},
      {"mark": {"type": "text", "text": "100 µM", "fontSize": 8, "align": "left", "color": "#a5cf4e"}, "encoding": {"x": {"datum": 1.13, "axis": null}, "y": {"datum": -0.227, "axis": null}}},
      {"mark": {"type": "text", "text": "1 mM", "fontSize": 8, "align": "left", "color": "#3bb04a"}, "encoding": {"x": {"datum": 1.13, "axis": null}, "y": {"datum": -0.31, "axis": null}}},
      {"mark": {"type": "text", "text": "10 mM", "fontSize": 8, "align": "left", "color": "#1ea39c"}, "encoding": {"x": {"datum": 1.13, "axis": null}, "y": {"datum": -0.4, "axis": null}}},
      {"mark": {"type": "text", "text": "washout", "fontSize": 8, "align": "left", "color": "#a5a5a5"}, "encoding": {"x": {"datum": 1.13, "axis": null}, "y": {"datum": -0.48, "axis": null}}}
     ]},
    {"width": 105, "height": 71,
     "title": {"text": "Quinidine", "fontSize": 15, "offset": 4},
     "data": {"values": [{}]},
     "layer": [
      {"mark": {"type": "rule", "color": "#aaaaaa", "strokeDash": [3, 3]}, "encoding": {"y": {"datum": 0, "axis": null}}},
      {"data": {"name": "cR3"}, "transform": [{"flatten": ["t", "i"]}], "mark": {"type": "line", "strokeWidth": 2.6},
       "encoding": {
        "x": {"field": "t", "type": "quantitative", "scale": {"domain": [-0.3, 1.45], "nice": false, "zero": false}, "axis": null},
        "y": {"field": "i", "type": "quantitative", "scale": {"domain": [-0.846, 0.246], "nice": false, "zero": false}, "axis": null},
        "color": {"field": "s", "type": "nominal", "scale": {"domain": ["DMSO", "1 µM", "10 µM", "100 µM", "washout", "control"], "range": ["#c8e4a4", "#a5cf4e", "#3bb04a", "#1ea39c", "#a5a5a5", "#000000"]}, "legend": null},
        "order": {"value": null}}},
      {"mark": {"type": "rule", "color": "#333333"}, "encoding": {"x": {"datum": -0.17, "axis": null}, "y": {"datum": -0.38, "axis": null}, "y2": {"datum": -0.58}}},
      {"mark": {"type": "text", "text": "0.2 µA", "angle": 270, "fontSize": 8.5}, "encoding": {"x": {"datum": -0.27, "axis": null}, "y": {"datum": -0.48, "axis": null}}},
      {"mark": {"type": "rule", "color": "#222222"}, "encoding": {"x": {"datum": -0.03, "axis": null}, "x2": {"datum": 0.47}, "y": {"datum": -1.35, "axis": null}}},
      {"mark": {"type": "text", "text": "0.5 s", "fontSize": 10, "baseline": "bottom"}, "encoding": {"x": {"datum": 0.22, "axis": null}, "y": {"datum": -1.2, "axis": null}}},
      {"mark": {"type": "text", "text": "control", "fontSize": 8, "align": "left", "color": "#000000"}, "encoding": {"x": {"datum": 1.13, "axis": null}, "y": {"datum": -0.14, "axis": null}}},
      {"mark": {"type": "text", "text": "DMSO", "fontSize": 8, "align": "left", "color": "#c8e4a4"}, "encoding": {"x": {"datum": 1.13, "axis": null}, "y": {"datum": -0.28, "axis": null}}},
      {"mark": {"type": "text", "text": "1 µM", "fontSize": 8, "align": "left", "color": "#a5cf4e"}, "encoding": {"x": {"datum": 1.13, "axis": null}, "y": {"datum": -0.42, "axis": null}}},
      {"mark": {"type": "text", "text": "10 µM", "fontSize": 8, "align": "left", "color": "#3bb04a"}, "encoding": {"x": {"datum": 1.13, "axis": null}, "y": {"datum": -0.55, "axis": null}}},
      {"mark": {"type": "text", "text": "100 µM", "fontSize": 8, "align": "left", "color": "#1ea39c"}, "encoding": {"x": {"datum": 1.13, "axis": null}, "y": {"datum": -0.71, "axis": null}}},
      {"mark": {"type": "text", "text": "washout", "fontSize": 8, "align": "left", "color": "#a5a5a5"}, "encoding": {"x": {"datum": 1.13, "axis": null}, "y": {"datum": -0.85, "axis": null}}}
     ]}
   ]}
  ]}
 ]}
]
}
